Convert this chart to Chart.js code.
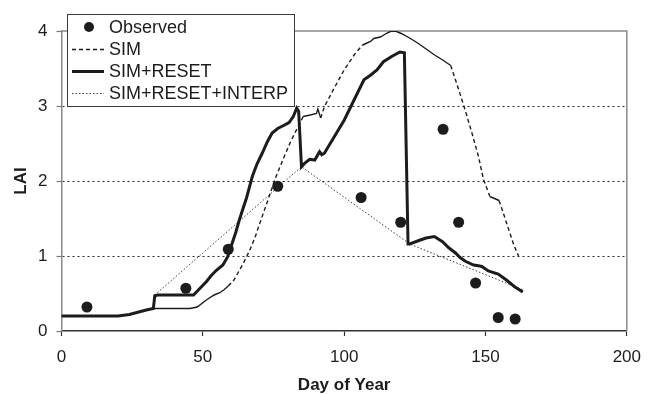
<!DOCTYPE html>
<html>
<head>
<meta charset="utf-8">
<script src="https://cdn.jsdelivr.net/npm/chart.js@4.4.1/dist/chart.umd.min.js"></script>
<style>
  html, body { margin: 0; padding: 0; background: #fff; }
  #wrap { width: 652px; height: 394px; position: relative; }
</style>
</head>
<body>
<div id="wrap"><canvas id="laiChart"></canvas></div>
<script>
// field measurements
var obsDay = [9, 44, 59, 76.5, 106, 120, 135, 140.5, 146.5, 154.5, 160.5];
var obsLai = [0.32, 0.57, 1.09, 1.93, 1.78, 1.45, 2.69, 1.45, 0.64, 0.18, 0.16];

// plain simulation
var simDay = [0, 20, 24, 27, 30, 32.5, 33, 45.5, 48, 51.5, 54, 56, 57.5, 59, 61, 62.5, 64, 66.4, 68.5, 69.9,
  72.8, 75.7, 78.5, 81, 84.3, 85.5, 88, 90.2, 90.7, 91.7, 93, 96.5, 100, 103.5, 106.4, 107.5, 109.3, 110.5,
  112.8, 115, 117.4, 120, 123, 126, 129, 132, 135, 137.7, 140.6, 143, 145.2, 147.5, 149.3, 151.6, 153,
  154.8, 156.5, 158.5, 160, 161.7];
var simLai = [0.2, 0.2, 0.22, 0.25, 0.28, 0.3, 0.3, 0.3, 0.32, 0.42, 0.48, 0.51, 0.55, 0.6, 0.68, 0.78, 0.88, 1.06, 1.25, 1.41,
  1.72, 2.04, 2.3, 2.52, 2.77, 2.86, 2.88, 2.9, 2.96, 2.84, 2.99, 3.24, 3.48, 3.68, 3.81, 3.83, 3.86, 3.9,
  3.92, 3.97, 4.01, 3.97, 3.91, 3.84, 3.76, 3.68, 3.61, 3.54, 3.21, 2.92, 2.64, 2.33, 2.02, 1.79, 1.77,
  1.74, 1.55, 1.32, 1.15, 1.0];

// simulation with reset at observations
var resetDay = [0, 20, 24, 27, 30, 32.5, 33, 34, 46.7, 48.5, 51.3, 53, 54.8, 57.1, 58.8, 60.2, 61.7, 62.9, 65.5, 67.5,
  69.2, 71, 72.8, 74.5, 76.5, 79.1, 80.5, 82, 83.2, 83.9, 84.9, 86.1, 87.8, 89.6, 91.3, 92.1, 93, 96.5,
  100, 103.5, 107, 109.3, 111.6, 113.9, 116.8, 119.7, 121.3, 122.6, 123.2, 126.7, 129, 131.9, 134.8, 137,
  139.4, 141, 142.9, 145.8, 147.5, 148.7, 151, 154.5, 157.4, 160.3, 163.2];
var resetLai = [0.2, 0.2, 0.22, 0.25, 0.28, 0.3, 0.47, 0.48, 0.48, 0.55, 0.66, 0.74, 0.81, 0.88, 0.99, 1.15, 1.32, 1.48, 1.78, 2.06,
  2.23, 2.37, 2.52, 2.64, 2.7, 2.75, 2.78, 2.86, 2.97, 2.93, 2.19, 2.24, 2.29, 2.28, 2.39, 2.35, 2.37, 2.59,
  2.81, 3.08, 3.35, 3.41, 3.48, 3.59, 3.66, 3.72, 3.71, 1.16, 1.16, 1.21, 1.24, 1.26, 1.19, 1.11,
  1.04, 0.98, 0.93, 0.88, 0.87, 0.86, 0.8, 0.76, 0.68, 0.59, 0.52];

// reset + interpolation between reset dates
var interpDay = [33, 84.9, 123.2, 163.2];
var interpLai = [0.48, 2.19, 1.16, 0.55];

var xTicks = [0, 50, 100, 150, 200];
var yTicks = [0, 1, 2, 3, 4];

// day ranges where the dashed SIM line renders as a continuous stroke
var simSolidSpans = [[0, 58.5], [85.5, 91.7], [106, 137.7], [151.6, 154.8]];

function pairs(xs, ys) {
  return xs.map(function (x, i) { return { x: x, y: ys[i] }; });
}

function onSolidSpan(x) {
  return simSolidSpans.some(function (s) { return x >= s[0] && x < s[1]; });
}

var FONT = '"Liberation Sans", Arial, Helvetica, sans-serif';
var INK = '#1c1c1c';

// white legend box laid over the upper left corner of the plot
var boxLegend = {
  id: 'boxLegend',
  afterDraw: function (chart) {
    var c = chart.ctx;
    var rows = [27, 49.5, 71.5, 93.5];
    c.save();
    c.fillStyle = '#fff';
    c.fillRect(67, 14, 227, 92);
    c.strokeStyle = '#3a3a3a';
    c.lineWidth = 1;
    c.strokeRect(67.5, 14.5, 227, 92);
    c.font = '18px ' + FONT;
    c.textBaseline = 'middle';
    c.textAlign = 'left';
    chart.data.datasets.forEach(function (ds, i) {
      var y = rows[i];
      c.save();
      if (ds.showLine === false) {
        c.fillStyle = ds.pointBackgroundColor;
        c.beginPath();
        c.arc(89, y, 5, 0, Math.PI * 2);
        c.fill();
      } else {
        c.strokeStyle = ds.borderColor;
        c.lineWidth = ds.borderWidth;
        c.setLineDash(ds.borderDash || []);
        c.beginPath();
        c.moveTo(72, y);
        c.lineTo(104, y);
        c.stroke();
      }
      c.restore();
      c.fillStyle = INK;
      c.fillText(ds.label, 109, y + 1);
    });
    c.restore();
  }
};

// grey frame along the top and right of the plot
var plotFrame = {
  id: 'plotFrame',
  beforeDatasetsDraw: function (chart) {
    var a = chart.chartArea, c = chart.ctx;
    c.save();
    c.strokeStyle = '#8a8a8a';
    c.lineWidth = 1.5;
    c.beginPath();
    c.moveTo(a.left, a.top);
    c.lineTo(a.right, a.top);
    c.lineTo(a.right, a.bottom);
    c.stroke();
    c.restore();
  }
};

new Chart(document.getElementById('laiChart'), {
  type: 'line',
  data: {
    datasets: [
      {
        label: 'Observed',
        data: pairs(obsDay, obsLai),
        showLine: false,
        pointRadius: 5.5,
        pointBackgroundColor: INK,
        pointBorderColor: INK,
        pointBorderWidth: 0,
        order: 0
      },
      {
        label: 'SIM',
        data: pairs(simDay, simLai),
        borderColor: INK,
        borderWidth: 1.4,
        borderDash: [4, 3],
        pointRadius: 0,
        fill: false,
        tension: 0,
        segment: {
          borderDash: function (ctx) { return onSolidSpan(ctx.p0.parsed.x) ? [] : [4, 3]; }
        },
        order: 2
      },
      {
        label: 'SIM+RESET',
        data: pairs(resetDay, resetLai),
        borderColor: INK,
        borderWidth: 3,
        pointRadius: 0,
        fill: false,
        tension: 0,
        order: 1
      },
      {
        label: 'SIM+RESET+INTERP',
        data: pairs(interpDay, interpLai),
        borderColor: '#3c3c3c',
        borderWidth: 1,
        borderDash: [1.5, 2],
        pointRadius: 0,
        fill: false,
        tension: 0,
        order: 3
      }
    ]
  },
  options: {
    responsive: true,
    maintainAspectRatio: false,
    devicePixelRatio: 1,
    animation: false,
    layout: { padding: { top: 31, right: 14.5, left: 0, bottom: 0 } },
    plugins: { legend: { display: false }, tooltip: { enabled: false } },
    scales: {
      x: {
        type: 'linear',
        min: 0,
        max: 200,
        afterBuildTicks: function (s) { s.ticks = xTicks.map(function (v) { return { value: v }; }); },
        afterFit: function (s) { s.height = 63; },
        ticks: { color: INK, padding: 11, font: { family: FONT, size: 17 } },
        grid: { drawOnChartArea: false, tickLength: 5, tickColor: '#333', tickWidth: 1.2 },
        border: { color: '#333', width: 1.5 },
        title: {
          display: true,
          text: 'Day of Year',
          color: INK,
          font: { family: FONT, size: 17, weight: 'bold', lineHeight: 1 },
          padding: { top: 0, bottom: 0 }
        }
      },
      y: {
        min: 0,
        max: 4,
        afterBuildTicks: function (s) { s.ticks = yTicks.map(function (v) { return { value: v }; }); },
        afterFit: function (s) { s.width = 61.5; },
        ticks: { color: INK, padding: 9, font: { family: FONT, size: 17 } },
        grid: {
          color: function (ctx) {
            var v = ctx.tick ? ctx.tick.value : 0;
            return (v > 0 && v < 4) ? '#2a2a2a' : 'rgba(0,0,0,0)';
          },
          lineWidth: 1,
          tickLength: 5,
          tickColor: '#777',
          tickWidth: 1.2
        },
        border: { color: '#8a8a8a', width: 1.5, dash: [2, 3] },
        title: {
          display: true,
          text: 'LAI',
          color: INK,
          font: { family: FONT, size: 17, weight: 'bold' },
          padding: { top: 11, bottom: 0 }
        }
      }
    }
  },
  plugins: [plotFrame, boxLegend]
});
</script>
</body>
</html>
